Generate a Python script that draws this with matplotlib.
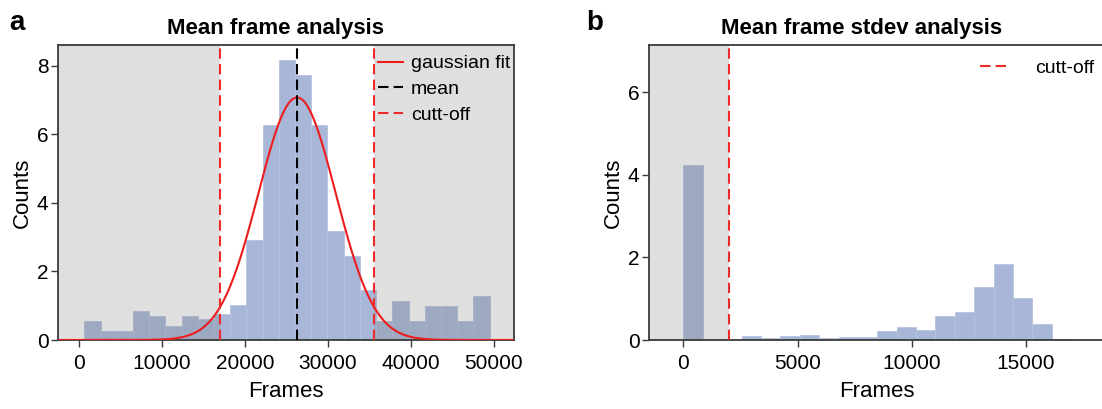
import numpy as np
import matplotlib
matplotlib.use("Agg")
import matplotlib.pyplot as plt

plt.rcParams['font.family'] = ['Liberation Sans', 'DejaVu Sans']
plt.rcParams['font.size'] = 15

# panel a: mean frame histogram
mean_bin_start = 640
mean_bin_width = 1955
mean_counts = [0.56, 0.27, 0.27, 0.85, 0.71, 0.42, 0.71, 0.6, 0.75, 1.02,
               2.91, 6.26, 8.17, 7.73, 6.26, 3.19, 2.46, 1.45, 0.56, 1.14,
               0.56, 1.0, 1.0, 0.56, 1.29]
fit_mu = 26300
fit_sigma = 4650
fit_amp = 7.07
mean_cutoffs = [17050, 35550]

# panel b: stdev histogram
std_bin_start = 0
std_bin_width = 850
std_counts = [4.25, 0, 0, 0.09, 0.05, 0.09, 0.12, 0.05, 0.08, 0.08,
              0.22, 0.32, 0.25, 0.59, 0.69, 1.29, 1.84, 1.03, 0.38, 0.02]
std_cutoff = 2000

bar_color = '#a8b6d8'
edge_color = '#b7c3e0'
shade = dict(color='grey', alpha=0.25, lw=0, zorder=2)
spine_color = '#3a3a3a'


def style(ax):
    for s in ax.spines.values():
        s.set_color(spine_color)
        s.set_linewidth(1.3)
    ax.tick_params(direction='out', length=5, width=1, color=spine_color,
                   top=False, right=False, labelsize=15)
    ax.tick_params(axis='x', pad=5)
    ax.tick_params(axis='y', pad=2)


fig = plt.figure(figsize=(11.02, 4.09), dpi=100)
ax1 = fig.add_axes([0.0529, 0.1687, 0.4138, 0.7213])
ax2 = fig.add_axes([0.5892, 0.1687, 0.4138, 0.7213])

# --- a
edges = mean_bin_start + mean_bin_width * np.arange(len(mean_counts))
ax1.bar(edges, mean_counts, width=mean_bin_width, align='edge',
        color=bar_color, edgecolor=edge_color, linewidth=0.6, zorder=1)
ax1.set_xlim(-2500, 52500)
ax1.set_ylim(0, 8.6)
ax1.axvspan(-2500, mean_cutoffs[0], **shade)
ax1.axvspan(mean_cutoffs[1], 52500, **shade)
xs = np.linspace(-2500, 52500, 600)
ax1.plot(xs, fit_amp * np.exp(-(xs - fit_mu) ** 2 / (2 * fit_sigma ** 2)),
         color='#ee1c1c', lw=1.5, zorder=4, label='gaussian fit')
ax1.axvline(fit_mu, color='black', ls='--', lw=1.5, zorder=4,
            dashes=(5, 2.5), label='mean')
ax1.axvline(mean_cutoffs[0], color='#ee2a2a', ls='--', lw=1.5, zorder=4,
            dashes=(5, 2.5), label='cutt-off')
ax1.axvline(mean_cutoffs[1], color='#ee2a2a', ls='--', lw=1.5, zorder=4,
            dashes=(5, 2.5))
ax1.set_xticks([0, 10000, 20000, 30000, 40000, 50000])
ax1.set_yticks([0, 2, 4, 6, 8])
ax1.set_xlabel('Frames', fontsize=16, labelpad=6)
ax1.set_ylabel('Counts', fontsize=16, labelpad=3)
ax1.set_title('Mean frame analysis', fontsize=16, fontweight='bold',
              x=0.477, pad=8)
ax1.legend(loc='upper right', bbox_to_anchor=(1.013, 1.0), frameon=False,
           fontsize=14, handlelength=1.3, handletextpad=0.4,
           borderaxespad=0.05, borderpad=0.45, labelspacing=0.42)
style(ax1)

# --- b
edges2 = std_bin_start + std_bin_width * np.arange(len(std_counts))
ax2.bar(edges2, std_counts, width=std_bin_width, align='edge',
        color=bar_color, edgecolor=edge_color, linewidth=0.6, zorder=1)
ax2.set_xlim(-1500, 18500)
ax2.set_ylim(0, 7.15)
ax2.axvspan(-1500, std_cutoff, **shade)
ax2.axvline(std_cutoff, color='#ee2a2a', ls='--', lw=1.5, zorder=4,
            dashes=(5, 2.5), label='cutt-off')
ax2.set_xticks([0, 5000, 10000, 15000])
ax2.set_yticks([0, 2, 4, 6])
ax2.set_xlabel('Frames', fontsize=16, labelpad=6)
ax2.set_ylabel('Counts', fontsize=16, labelpad=3)
ax2.set_title('Mean frame stdev analysis', fontsize=16, fontweight='bold',
              x=0.466, pad=8)
ax2.legend(loc='upper right', bbox_to_anchor=(1.007, 1.0), frameon=False,
           fontsize=14, handlelength=1.3, handletextpad=1.5,
           borderaxespad=0.3, borderpad=0.45)
style(ax2)

fig.text(0.008, 0.975, 'a', fontsize=20, fontweight='bold', va='top')
fig.text(0.532, 0.975, 'b', fontsize=20, fontweight='bold', va='top')

fig.savefig('out.png', dpi=100)
